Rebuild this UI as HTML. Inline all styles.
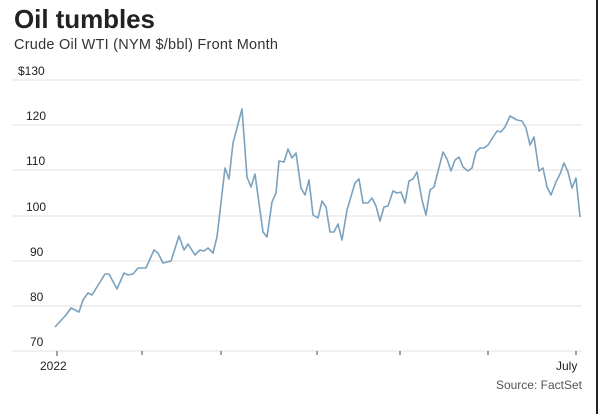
<!DOCTYPE html><html><head><style>body{margin:0;background:#fff;width:600px;height:414px;overflow:hidden;font-family:"Liberation Sans",sans-serif}</style></head><body>
<svg width="600" height="414" xmlns="http://www.w3.org/2000/svg">
<text x="14" y="28" font-size="26" font-weight="bold" fill="#222" textLength="141">Oil tumbles</text>
<text x="14" y="49" font-size="14.5" fill="#333" textLength="264">Crude Oil WTI (NYM $/bbl) Front Month</text>
<g stroke="#e6e6e6" stroke-width="1.2">
<line x1="12" x2="582" y1="80" y2="80"/><line x1="12" x2="582" y1="125" y2="125"/><line x1="12" x2="582" y1="170" y2="170"/><line x1="12" x2="582" y1="216" y2="216"/><line x1="12" x2="582" y1="261" y2="261"/><line x1="12" x2="582" y1="306" y2="306"/><line x1="12" x2="582" y1="351" y2="351"/></g>
<g font-size="12" fill="#222"><text x="18" y="75">$130</text><text x="26" y="120">120</text><text x="26" y="165">110</text><text x="26" y="211">100</text><text x="30" y="256">90</text><text x="30" y="301">80</text><text x="30" y="346">70</text>
<text x="40" y="370">2022</text><text x="556" y="370">July</text></g>
<text x="582" y="389" font-size="12" fill="#555" text-anchor="end">Source: FactSet</text>
<g stroke="#444" stroke-width="1"><line x1="57" x2="57" y1="351" y2="356"/><line x1="142" x2="142" y1="351" y2="355"/><line x1="221" x2="221" y1="351" y2="355"/><line x1="317" x2="317" y1="351" y2="355"/><line x1="400" x2="400" y1="351" y2="355"/><line x1="488" x2="488" y1="351" y2="355"/><line x1="576" x2="576" y1="351" y2="355"/></g>
<line x1="597" x2="597" y1="0" y2="414" stroke="#222" stroke-width="2"/>
<polyline fill="none" stroke="#7aa2bf" stroke-width="1.6" stroke-linejoin="round" points="55,327 66,315 71,308 79,312 83,300 88,293 92,295 105,274 109,274 117,289 124,273 128,275 133,274 138,268 146,268 154,250 158,253 163,263 171,261 179,236 184,250 188,244 195,255 200,250 204,251 208,248 213,253 217,237 225,168 229,179 233,143 242,109 247,177 251,187 255,174 263,232 267,237 272,202 276,193 279,161 284,162 288,149 292,158 296,153 301,188 305,195 309,180 313,215 318,218 322,201 326,207 330,232 334,232 338,224 342,240 347,210 355,183 359,179 363,203 368,203 372,198 376,206 380,221 384,207 388,206 393,191 397,193 401,192 405,203 409,181 413,179 417,172 422,200 426,215 430,190 434,187 443,152 447,159 451,171 455,160 459,157 463,167 468,171 472,168 476,152 480,148 484,148 488,145 497,131 501,132 505,127 510,116 517,120 522,121 526,128 530,145 534,137 539,171 543,168 547,187 551,195 556,182 560,174 564,163 568,172 572,188 576,178 580,217"/>
</svg></body></html>
